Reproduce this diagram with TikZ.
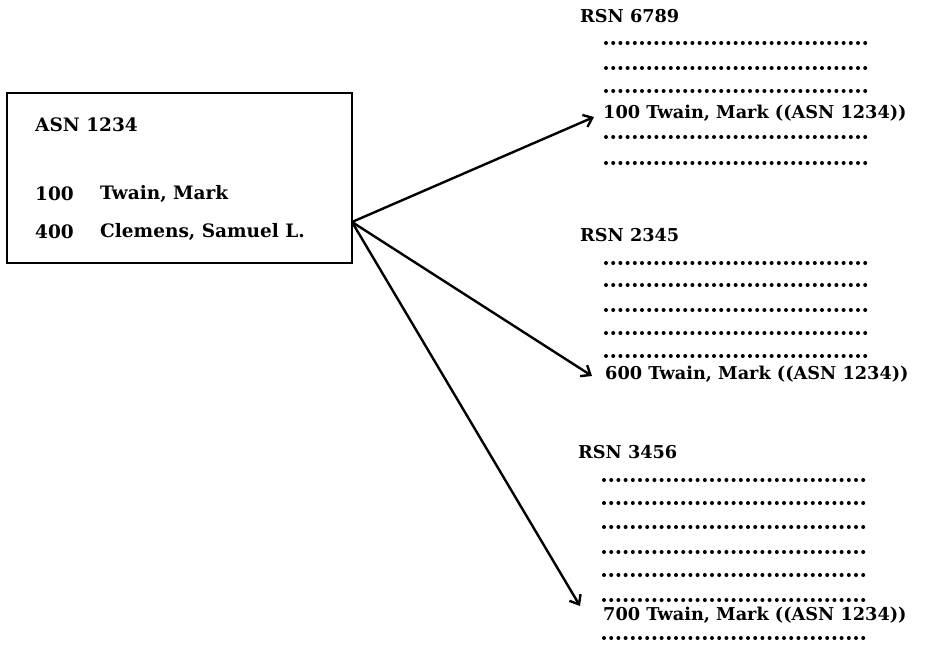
\documentclass[tikz,border=0pt]{standalone}
\usepackage{fontspec}
\setmainfont{DejaVu Serif}
\usetikzlibrary{arrows.meta}
\tikzset{
  lbl/.style={font=\bfseries\fontsize{18.5}{20}\selectfont, inner sep=0pt, anchor=west},
  rlbl/.style={font=\bfseries\fontsize{17.7}{19}\selectfont, inner sep=0pt, anchor=west},
  dotrow/.style={line width=4pt, line cap=round, dash pattern=on 0pt off 7.2pt},
  link/.style={line width=2.4pt, -{Straight Barb[length=8pt,width=13pt,line width=2.4pt]}},
  frame/.style={draw, line width=2.8pt}
}
\begin{document}
\begin{tikzpicture}[x=1pt,y=-1pt]
\useasboundingbox (0,0) rectangle (926,655);
% source box
\draw[frame] (7,93) rectangle (352,263);
\node[lbl] (asn) at (35,125) {ASN 1234};
\node[lbl] (n100) at (35,194) {100};
\node[lbl] (tw) at (100,194) {Twain, Mark};
\node[lbl] (n400) at (35,232) {400};
\node[lbl] (cl) at (100,232) {Clemens, Samuel L.};
\coordinate (src) at (352,222);
% group 1
\node[rlbl] (r1) at (580,16) {RSN 6789};
\foreach \y in {43,68,91,137,163} \draw[dotrow] (606,\y) -- (867,\y);
\node[rlbl] (t1) at (603,113) {100 Twain, Mark ((ASN 1234))};
\coordinate (e1) at (594,117);
% group 2
\node[rlbl] (r2) at (580,235) {RSN 2345};
\foreach \y in {263,285,310,333,356} \draw[dotrow] (606,\y) -- (867,\y);
\node[rlbl] (t2) at (605,374) {600 Twain, Mark ((ASN 1234))};
\coordinate (e2) at (592,376);
% group 3
\node[rlbl] (r3) at (578,452) {RSN 3456};
\foreach \y in {480,503,527,552,575,600,638} \draw[dotrow] (604,\y) -- (864,\y);
\node[rlbl] (t3) at (603,615) {700 Twain, Mark ((ASN 1234))};
\coordinate (e3) at (580,606);
% arrows
\draw[link] (src) -- (e1);
\draw[link] (src) -- (e2);
\draw[link] (src) -- (e3);
\end{tikzpicture}
\end{document}
